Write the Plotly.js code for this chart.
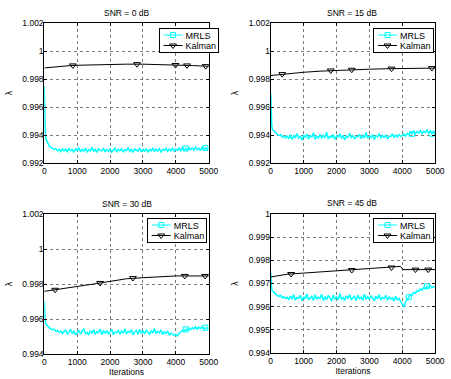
<!DOCTYPE html>
<html><head><meta charset="utf-8">
<script src="https://cdn.plot.ly/plotly-3.0.1.min.js"></script>
<style>html,body{margin:0;padding:0;background:#fff}#chart{width:451px;height:379px}</style>
</head><body><div id="chart"></div>
<script>
// ---------- DATA ----------
const panelTitles = ['SNR = 0 dB', 'SNR = 15 dB', 'SNR = 30 dB', 'SNR = 45 dB'];
const seriesNames = ['MRLS', 'Kalman'];
const xTickVals = [0, 1000, 2000, 3000, 4000, 5000];
const xTickText = ['0', '1000', '2000', '3000', '4000', '5000'];
const yTickVals02 = [0.992, 0.994, 0.996, 0.998, 1, 1.002];
const yTickText02 = ['0.992', '0.994', '0.996', '0.998', '1', '1.002'];
const yTickVals30 = [0.994, 0.996, 0.998, 1, 1.002];
const yTickText30 = ['0.994', '0.996', '0.998', '1', '1.002'];
const yTickVals45 = [0.994, 0.995, 0.996, 0.997, 0.998, 0.999, 1];
const yTickText45 = ['0.994', '0.995', '0.996', '0.997', '0.998', '0.999', '1'];

const iterations = [0,10,30,50,100,150,200,250,300,350,400,450,
 500,550,600,650,700,750,800,850,900,950,
 1000,1050,1100,1150,1200,1250,1300,1350,1400,1450,
 1500,1550,1600,1650,1700,1750,1800,1850,1900,1950,
 2000,2050,2100,2150,2200,2250,2300,2350,2400,2450,
 2500,2550,2600,2650,2700,2750,2800,2850,2900,2950,
 3000,3050,3100,3150,3200,3250,3300,3350,3400,3450,
 3500,3550,3600,3650,3700,3750,3800,3850,3900,3950,
 4000,4050,4100,4150,4200,4250,4300,4350,4400,4450,
 4500,4550,4600,4650,4700,4750,4800,4850,4900,4950,
 5000];

const mrlsSnr0 = [0.99750,0.99560,0.99420,0.99370,0.99345,0.99322,0.99312,0.99305,0.99298,0.99302,0.99288,0.99296,
 0.99281,0.99302,0.99285,0.99299,0.99278,0.99305,0.99288,0.99296,0.99276,0.99301,
 0.99289,0.99310,0.99280,0.99297,0.99284,0.99306,0.99279,0.99294,0.99287,0.99312,
 0.99283,0.99298,0.99275,0.99303,0.99290,0.99286,0.99307,0.99279,0.99296,0.99284,
 0.99300,0.99277,0.99292,0.99309,0.99282,0.99297,0.99286,0.99304,0.99278,0.99295,
 0.99289,0.99311,0.99283,0.99298,0.99276,0.99302,0.99291,0.99285,0.99306,0.99280,
 0.99297,0.99284,0.99303,0.99277,0.99294,0.99288,0.99308,0.99281,0.99299,0.99286,
 0.99302,0.99279,0.99296,0.99290,0.99305,0.99283,0.99300,0.99287,0.99309,0.99284,
 0.99298,0.99291,0.99306,0.99288,0.99311,0.99293,0.99303,0.99290,0.99314,0.99295,
 0.99307,0.99292,0.99313,0.99296,0.99305,0.99289,0.99316,0.99298,0.99308,0.99294,
 0.99305];
const mrlsSnr15 = [0.99700,0.99560,0.99470,0.99440,0.99428,0.99412,0.99405,0.99396,0.99402,0.99385,0.99393,0.99380,
 0.99392,0.99374,0.99401,0.99368,0.99395,0.99380,0.99410,0.99377,0.99389,0.99365,
 0.99398,0.99383,0.99407,0.99372,0.99394,0.99386,0.99415,0.99370,0.99391,0.99379,
 0.99404,0.99376,0.99396,0.99384,0.99420,0.99373,0.99390,0.99381,0.99402,0.99369,
 0.99393,0.99385,0.99409,0.99375,0.99398,0.99366,0.99392,0.99383,0.99412,0.99378,
 0.99397,0.99371,0.99390,0.99386,0.99405,0.99374,0.99395,0.99380,0.99418,0.99376,
 0.99391,0.99383,0.99403,0.99368,0.99394,0.99387,0.99410,0.99377,0.99396,0.99382,
 0.99400,0.99373,0.99392,0.99388,0.99408,0.99381,0.99399,0.99386,0.99404,0.99390,
 0.99395,0.99407,0.99392,0.99412,0.99403,0.99420,0.99408,0.99427,0.99411,0.99424,
 0.99415,0.99432,0.99410,0.99425,0.99418,0.99436,0.99414,0.99428,0.99409,0.99422,
 0.99416];
const mrlsSnr30 = [0.99700,0.99610,0.99585,0.99572,0.99560,0.99550,0.99545,0.99538,0.99542,0.99530,0.99535,0.99524,
 0.99532,0.99516,0.99528,0.99537,0.99512,0.99526,0.99541,0.99518,0.99530,0.99509,
 0.99527,0.99536,0.99514,0.99529,0.99545,0.99517,0.99524,0.99508,0.99533,0.99520,
 0.99539,0.99513,0.99528,0.99522,0.99543,0.99511,0.99531,0.99519,0.99535,0.99515,
 0.99527,0.99540,0.99510,0.99525,0.99521,0.99537,0.99514,0.99532,0.99518,0.99544,
 0.99516,0.99529,0.99523,0.99538,0.99509,0.99526,0.99534,0.99513,0.99541,0.99520,
 0.99530,0.99515,0.99536,0.99524,0.99512,0.99533,0.99519,0.99546,0.99517,0.99528,
 0.99522,0.99537,0.99511,0.99526,0.99518,0.99531,0.99507,0.99520,0.99513,0.99505,
 0.99512,0.99503,0.99519,0.99524,0.99533,0.99528,0.99541,0.99536,0.99548,0.99539,
 0.99551,0.99543,0.99556,0.99540,0.99553,0.99545,0.99558,0.99542,0.99550,0.99547,
 0.99545];
const mrlsSnr45 = [0.99745,0.99690,0.99675,0.99668,0.99660,0.99654,0.99648,0.99644,0.99649,0.99638,0.99643,0.99635,
 0.99641,0.99630,0.99646,0.99633,0.99652,0.99628,0.99640,0.99636,0.99649,0.99625,
 0.99643,0.99634,0.99655,0.99629,0.99639,0.99645,0.99627,0.99651,0.99632,0.99641,
 0.99636,0.99653,0.99626,0.99644,0.99631,0.99648,0.99638,0.99624,0.99650,0.99634,
 0.99642,0.99629,0.99656,0.99633,0.99640,0.99627,0.99647,0.99635,0.99652,0.99630,
 0.99638,0.99645,0.99626,0.99650,0.99634,0.99641,0.99628,0.99654,0.99632,0.99643,
 0.99631,0.99648,0.99637,0.99625,0.99646,0.99633,0.99652,0.99629,0.99640,0.99636,
 0.99649,0.99627,0.99643,0.99632,0.99638,0.99624,0.99645,0.99630,0.99635,0.99622,
 0.99612,0.99598,0.99620,0.99632,0.99641,0.99652,0.99649,0.99662,0.99658,0.99670,
 0.99666,0.99677,0.99671,0.99683,0.99676,0.99688,0.99680,0.99691,0.99682,0.99687,
 0.99684];

const mrlsMarkIterSnr0 = [4300, 4900];
const mrlsMarkIterSnr15 = [4300, 4900];
const mrlsMarkIterSnr30 = [4300, 4900];
const mrlsMarkIterSnr45 = [4200, 4750];

const kalmanXSnr0 = [0, 250, 500, 750, 1000, 1500, 2000, 2500, 3000, 3500, 4000, 4500, 5000];
const kalmanYSnr0 = [0.99879, 0.99886, 0.99891, 0.99895, 0.99898, 0.99902, 0.99905, 0.99906, 0.99906, 0.99904, 0.99900, 0.99896, 0.99891];
const kalmanMarkXSnr0 = [870, 2820, 3990, 4340, 4910];
const kalmanMarkYSnr0 = [0.99897, 0.99906, 0.99900, 0.99897, 0.99892];

const kalmanXSnr15 = [0, 250, 500, 1000, 1500, 2000, 2500, 3000, 3500, 4000, 4500, 5000];
const kalmanYSnr15 = [0.99825, 0.99832, 0.99838, 0.99848, 0.99856, 0.99862, 0.99866, 0.99870, 0.99873, 0.99876, 0.99877, 0.99878];
const kalmanMarkXSnr15 = [350, 1826, 2464, 3673, 4901];
const kalmanMarkYSnr15 = [0.99835, 0.99861, 0.99866, 0.99874, 0.99878];

const kalmanXSnr30 = [0, 500, 1000, 1500, 2000, 2500, 3000, 3500, 4000, 4500, 5000];
const kalmanYSnr30 = [0.99758, 0.99771, 0.99786, 0.99800, 0.99815, 0.99830, 0.99836, 0.99841, 0.99846, 0.99846, 0.99846];
const kalmanMarkXSnr30 = [330, 1697, 2695, 4272, 4890];
const kalmanMarkYSnr30 = [0.99767, 0.99806, 0.99834, 0.99846, 0.99846];

const kalmanXSnr45 = [0, 500, 1000, 1500, 2000, 2500, 3000, 3500, 3950, 4020, 4500, 5000];
const kalmanYSnr45 = [0.99728, 0.99740, 0.99745, 0.99750, 0.99754, 0.99758, 0.99763, 0.99768, 0.99774, 0.99760, 0.99760, 0.99760];
const kalmanMarkXSnr45 = [620, 2464, 3673, 4401, 4790];
const kalmanMarkYSnr45 = [0.99741, 0.99758, 0.99769, 0.99760, 0.99760];

// ---------- LAYOUT / STYLE ----------
const W = 451, H = 379;
const FONT = 'Liberation Sans, Arial, Helvetica, sans-serif';
const FS = 8.5;
const LFS = 9;
const CYAN = '#00FFFF';
const px = v => v / W;
const py = v => 1 - v / H;

const panels = [
  {mrls: mrlsSnr0, mrlsMark: mrlsMarkIterSnr0, kx: kalmanXSnr0, ky: kalmanYSnr0, kmx: kalmanMarkXSnr0, kmy: kalmanMarkYSnr0,
   yv: yTickVals02, yt: yTickText02, yr: [0.992, 1.002], box: [45, 212, 23, 163], leg: [161, 28], title: [128.5, 13], xlabel: false},
  {mrls: mrlsSnr15, mrlsMark: mrlsMarkIterSnr15, kx: kalmanXSnr15, ky: kalmanYSnr15, kmx: kalmanMarkXSnr15, kmy: kalmanMarkYSnr15,
   yv: yTickVals02, yt: yTickText02, yr: [0.992, 1.002], box: [275, 442, 23, 163], leg: [379, 28], title: [358, 13], xlabel: false},
  {mrls: mrlsSnr30, mrlsMark: mrlsMarkIterSnr30, kx: kalmanXSnr30, ky: kalmanYSnr30, kmx: kalmanMarkXSnr30, kmy: kalmanMarkYSnr30,
   yv: yTickVals30, yt: yTickText30, yr: [0.994, 1.002], box: [45, 212, 214, 354], leg: [149, 218], title: [128.5, 204], xlabel: true},
  {mrls: mrlsSnr45, mrlsMark: mrlsMarkIterSnr45, kx: kalmanXSnr45, ky: kalmanYSnr45, kmx: kalmanMarkXSnr45, kmy: kalmanMarkYSnr45,
   yv: yTickVals45, yt: yTickText45, yr: [0.994, 1.000], box: [275, 442, 214, 353], leg: [379, 218], title: [358, 203], xlabel: true}
];

const traces = [];
const layout = {
  width: W, height: H, margin: {l: 0, r: 0, t: 0, b: 0},
  paper_bgcolor: '#fff', plot_bgcolor: '#fff',
  font: {family: FONT, size: FS, color: '#000'},
  showlegend: true, annotations: []
};

panels.forEach((p, i) => {
  const s = i === 0 ? '' : String(i + 1);
  const xa = 'x' + s, ya = 'y' + s, lg = 'legend' + s;
  traces.push({x: iterations, y: p.mrls, xaxis: xa, yaxis: ya, mode: 'lines', showlegend: false,
    line: {color: CYAN, width: 1.5}, hoverinfo: 'skip'});
  traces.push({x: p.mrlsMark, y: p.mrlsMark.map(it => p.mrls[iterations.indexOf(it)]), xaxis: xa, yaxis: ya,
    mode: 'markers', showlegend: false, marker: {symbol: 'square-open', color: CYAN, size: 5, line: {width: 1}}});
  traces.push({x: p.kx, y: p.ky, xaxis: xa, yaxis: ya, mode: 'lines', showlegend: false,
    line: {color: '#000', width: 1}});
  traces.push({x: p.kmx, y: p.kmy, xaxis: xa, yaxis: ya, mode: 'markers', showlegend: false,
    marker: {symbol: 'triangle-down-open', color: '#000', size: 6, line: {width: 1}}});
  traces.push({x: [null], y: [null], xaxis: xa, yaxis: ya, mode: 'lines+markers', name: seriesNames[0], legend: lg,
    line: {color: CYAN, width: 1}, marker: {symbol: 'square-open', color: CYAN, size: 5, line: {width: 1}}});
  traces.push({x: [null], y: [null], xaxis: xa, yaxis: ya, mode: 'lines+markers', name: seriesNames[1], legend: lg,
    line: {color: '#000', width: 1}, marker: {symbol: 'triangle-down-open', color: '#000', size: 6, line: {width: 1}}});

  const common = {showline: true, linecolor: '#000', linewidth: 1, mirror: 'ticks', ticks: 'inside', ticklen: 3,
    tickcolor: '#000', showgrid: true, gridcolor: '#7a7a7a', griddash: 'dot', gridwidth: 1, zeroline: false,
    tickfont: {family: FONT, size: FS, color: '#000'}, automargin: false, fixedrange: true,
    ticklabeloverflow: 'allow'};
  layout['xaxis' + s] = Object.assign({}, common, {
    domain: [px(p.box[0]), px(p.box[1])], anchor: ya, range: [0, 5000],
    tickmode: 'array', tickvals: xTickVals, ticktext: xTickText,
    title: p.xlabel ? {text: 'Iterations', font: {family: FONT, size: FS}, standoff: 2} : {text: ''}
  });
  layout['yaxis' + s] = Object.assign({}, common, {
    domain: [py(p.box[3]), py(p.box[2])], anchor: xa, range: p.yr,
    tickmode: 'array', tickvals: p.yv, ticktext: p.yt, ticklabelstandoff: -2,
    title: {text: 'λ', font: {family: FONT, size: FS}, standoff: 8}
  });
  layout[lg] = {x: px(p.leg[0]), y: py(p.leg[1]), xanchor: 'left', yanchor: 'top',
    bgcolor: '#fff', bordercolor: '#000', borderwidth: 1, itemwidth: 30, tracegroupgap: 0,
    font: {family: FONT, size: LFS, color: '#000'}};
  layout.annotations.push({text: panelTitles[i], x: px(p.title[0]), y: py(p.title[1]), xref: 'paper', yref: 'paper',
    xanchor: 'center', yanchor: 'middle', showarrow: false, font: {family: FONT, size: FS, color: '#000'}});
});

// tighten the legend boxes to the compact MATLAB look (rows ~10px apart, short samples)
function compactLegends(gd) {
  const groups = Array.from(gd.querySelectorAll('g.infolayer > g')).filter(g => /^legend\d*$/.test(g.getAttribute('class') || ''));
  groups.forEach(leg => {
    const items = leg.querySelectorAll('g.traces');
    let maxRight = 0;
    items.forEach((it, k) => {
      it.setAttribute('transform', 'translate(1,' + (7 + k * 10.5) + ')');
      it.querySelectorAll('g[class$="lines"] path').forEach(pth => pth.setAttribute('d', 'M4,0h19'));
      it.querySelectorAll('g[class$="points"] path').forEach(pth => pth.setAttribute('transform', 'translate(13.5,0)'));
      const txt = it.querySelector('text');
      if (txt) {
        txt.setAttribute('x', 26);
        const len = txt.getComputedTextLength ? txt.getComputedTextLength() : 0;
        maxRight = Math.max(maxRight, 26 + (len || 0));
      }
    });
    const bg = leg.querySelector('rect.bg');
    if (bg && maxRight > 26) { bg.setAttribute('width', maxRight + 3); bg.setAttribute('height', 24); }
  });
}

Plotly.newPlot('chart', traces, layout, {staticPlot: true, displayModeBar: false})
  .then(gd => {
    compactLegends(gd);
    gd.on('plotly_afterplot', () => compactLegends(gd));
    setTimeout(() => compactLegends(gd), 50);
  });
</script>
</body></html>
